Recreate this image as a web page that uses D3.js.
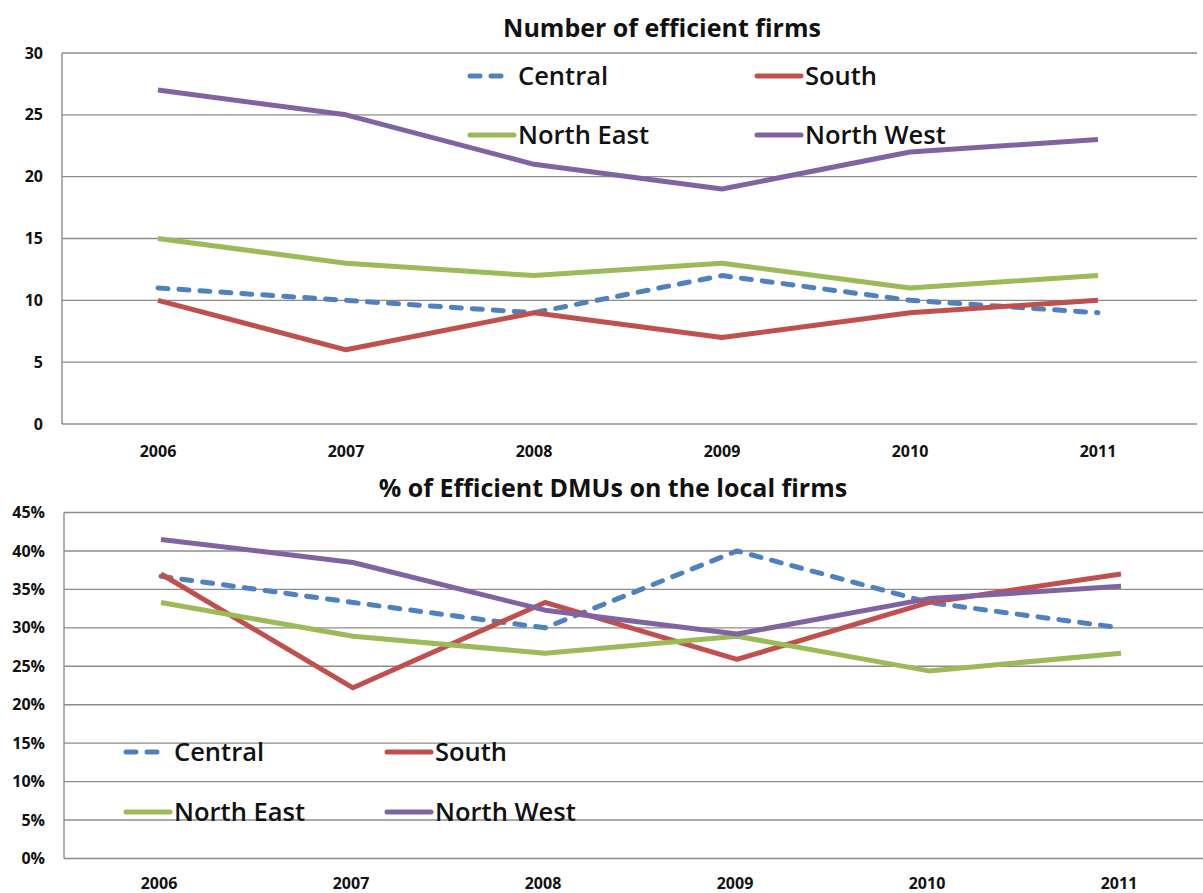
<!DOCTYPE html>
<html>
<head>
<meta charset="utf-8">
<script src="https://cdn.jsdelivr.net/npm/d3@7"></script>
<style>
  html, body { margin: 0; padding: 0; background: #fff; }
  svg { display: block; }
  text { font-family: "Open Sans", "Liberation Sans", sans-serif; fill: #111; }
</style>
</head>
<body>
<svg id="chart" width="1203" height="893"></svg>
<script>
// Years on the x axis
const years = ["2006", "2007", "2008", "2009", "2010", "2011"];

// Number of efficient firms per region
const centralCount   = [11, 10, 9, 12, 10, 9];
const southCount     = [10, 6, 9, 7, 9, 10];
const northEastCount = [15, 13, 12, 13, 11, 12];
const northWestCount = [27, 25, 21, 19, 22, 23];

// Share of efficient DMUs among local firms (%)
const centralPct   = [36.7, 33.3, 30.0, 40.0, 33.3, 30.0];
const southPct     = [37.0, 22.2, 33.3, 25.9, 33.3, 37.0];
const northEastPct = [33.3, 28.9, 26.7, 28.9, 24.4, 26.7];
const northWestPct = [41.5, 38.5, 32.3, 29.2, 33.8, 35.4];

// Tick values for the two y axes
const countTicks = [0, 5, 10, 15, 20, 25, 30];
const pctTicks = [0, 5, 10, 15, 20, 25, 30, 35, 40, 45];

const regions = ["Central", "South", "North East", "North West"];
const colors = {
  "Central": "#4F81BD",
  "South": "#C0504D",
  "North East": "#9BBB59",
  "North West": "#8064A2"
};

const svg = d3.select("#chart");

function drawPanel(opts) {
  const g = svg.append("g");
  const x = d3.scalePoint()
    .domain(years)
    .range([opts.x0, opts.x1]);
  const y = d3.scaleLinear()
    .domain([0, opts.max])
    .range([opts.yBottom, opts.yTop]);

  // horizontal gridlines
  g.append("g")
    .selectAll("line")
    .data(opts.ticks)
    .join("line")
    .attr("x1", opts.plotLeft)
    .attr("x2", opts.plotRight)
    .attr("y1", d => y(d))
    .attr("y2", d => y(d))
    .attr("stroke", "#8c8c8c")
    .attr("stroke-width", 1.4);

  // vertical axis line
  g.append("line")
    .attr("x1", opts.plotLeft).attr("x2", opts.plotLeft)
    .attr("y1", y(opts.max)).attr("y2", y(0))
    .attr("stroke", "#8c8c8c")
    .attr("stroke-width", 1.4);

  // y tick labels
  g.append("g")
    .selectAll("text")
    .data(opts.ticks)
    .join("text")
    .attr("x", opts.yLabelX)
    .attr("y", d => y(d))
    .attr("dy", "0.35em")
    .attr("text-anchor", "end")
    .attr("font-size", 16)
    .attr("font-weight", 700)
    .text(d => opts.fmt(d));

  // x tick labels
  g.append("g")
    .selectAll("text")
    .data(years)
    .join("text")
    .attr("x", d => x(d) + opts.xLabelShift)
    .attr("y", opts.xLabelY)
    .attr("dy", "0.35em")
    .attr("text-anchor", "middle")
    .attr("font-size", 16)
    .attr("font-weight", 700)
    .text(d => d);

  // title
  g.append("text")
    .attr("x", opts.titleX)
    .attr("y", opts.titleY)
    .attr("dy", "0.35em")
    .attr("text-anchor", "middle")
    .attr("font-size", 25)
    .attr("font-weight", 700)
    .text(opts.title);

  // series lines
  const line = d3.line()
    .x((d, i) => x(years[i]))
    .y(d => y(d));

  regions.forEach(name => {
    g.append("path")
      .datum(opts.series[name])
      .attr("d", line)
      .attr("fill", "none")
      .attr("stroke", colors[name])
      .attr("stroke-width", 5)
      .attr("stroke-linejoin", "round")
      .attr("stroke-linecap", name === "Central" ? "round" : "butt")
      .attr("stroke-dasharray", name === "Central" ? "10,11" : null);
  });

  // legend (2 x 2)
  const lg = g.append("g");
  regions.forEach((name, i) => {
    const col = i % 2, row = Math.floor(i / 2);
    const lx = opts.legendX[col];
    const ly = opts.legendY[row];
    const item = lg.append("g").attr("transform", `translate(${lx},${ly})`);
    if (name === "Central") {
      item.append("line")
        .attr("x1", 2).attr("x2", 42).attr("y1", 0).attr("y2", 0)
        .attr("stroke", colors[name]).attr("stroke-width", 5)
        .attr("stroke-linecap", "round")
        .attr("stroke-dasharray", "10,11");
    } else {
      item.append("line")
        .attr("x1", 2).attr("x2", 46).attr("y1", 0).attr("y2", 0)
        .attr("stroke", colors[name]).attr("stroke-width", 5)
        .attr("stroke-linecap", "round");
    }
    item.append("text")
      .attr("x", 50)
      .attr("y", 0)
      .attr("dy", "0.35em")
      .attr("font-size", 25.5)
      .attr("font-weight", 600)
      .text(name);
  });
}

// Upper panel: counts
drawPanel({
  series: {
    "Central": centralCount,
    "South": southCount,
    "North East": northEastCount,
    "North West": northWestCount
  },
  ticks: countTicks,
  max: 30,
  fmt: d => d,
  x0: 158, x1: 1098,
  plotLeft: 62, plotRight: 1197,
  yTop: 53, yBottom: 424,
  yLabelX: 43,
  xLabelY: 451, xLabelShift: 0,
  title: "Number of efficient firms",
  titleX: 662, titleY: 28,
  legendX: [468, 755],
  legendY: [76, 135]
});

// Lower panel: percentages
drawPanel({
  series: {
    "Central": centralPct,
    "South": southPct,
    "North East": northEastPct,
    "North West": northWestPct
  },
  ticks: pctTicks,
  max: 45,
  fmt: d => d + "%",
  x0: 161, x1: 1121,
  plotLeft: 64, plotRight: 1203,
  yTop: 512.5, yBottom: 858.5,
  yLabelX: 45,
  xLabelY: 883, xLabelShift: -2,
  title: "% of Efficient DMUs on the local firms",
  titleX: 613, titleY: 488,
  legendX: [124, 385],
  legendY: [752, 812]
});
</script>
</body>
</html>
